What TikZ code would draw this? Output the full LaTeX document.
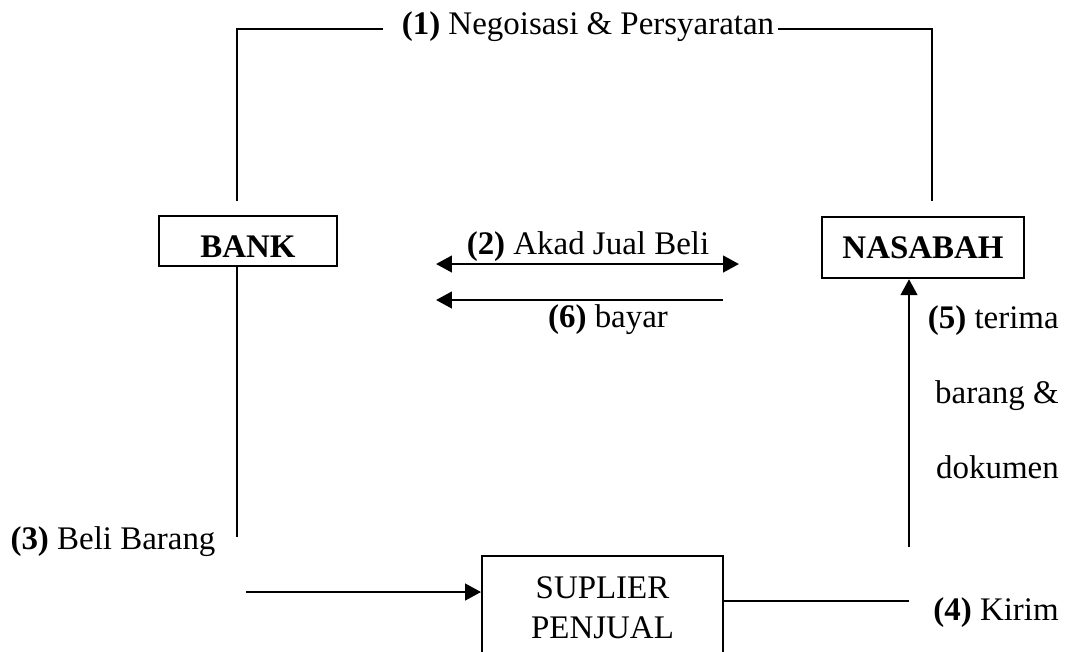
\documentclass[tikz,border=0pt]{standalone}
\usepackage{fontspec}
\setmainfont{Liberation Serif}
\usetikzlibrary{positioning,arrows.meta,calc}

\begin{document}
\begin{tikzpicture}[
  x=0.0128cm, y=-0.0128cm,
  party/.style={draw, line width=0.85pt, inner sep=0pt, align=center,
                font=\fontsize{12}{14.5}\selectfont},
  lbl/.style={inner sep=1pt, align=center, font=\fontsize{12}{14.5}\selectfont},
  ln/.style={line width=0.7pt},
  ar/.style={line width=1pt, -{Triangle[length=5.8pt,width=6pt]}},
  dar/.style={line width=1pt, {Triangle[length=5.8pt,width=6pt]}-{Triangle[length=5.8pt,width=6pt]}}
]
\useasboundingbox (0,0) rectangle (1070,651);

% parties
\node[party, minimum width=2.28cm, minimum height=0.64cm] (bank) at (248,241)
  {\raisebox{-0.07cm}[\height][\depth]{\textbf{BANK}}};
\node[party, minimum width=2.59cm, minimum height=0.78cm] (nasabah) at (923,247.5) {\textbf{NASABAH}};
\node[party, minimum width=3.08cm, minimum height=1.33cm] (suplier) at (602.5,608) {SUPLIER\\PENJUAL};

% labels
\node[lbl] (lbl1) at (588,27) {\textbf{(1)} Negoisasi \& Persyaratan};
\node[lbl] (lbl2) at (588,247) {\textbf{(2)} Akad Jual Beli};
\node[lbl] (lbl6) at (608,320) {\textbf{(6)} bayar};
\node[lbl] (lbl3) at (113,542) {\textbf{(3)} Beli Barang};
\node[lbl, anchor=east] (lbl4) at (1062,613) {\textbf{(4)} Kirim};
\node[lbl, anchor=east, align=right, font=\fontsize{12}{27.3}\selectfont] (lbl5) at (1062,392)
  {\textbf{(5)} terima\\barang \&\\dokumen};

% free ends
\coordinate (bankTop) at (237,201);
\coordinate (nasTop) at (932,201);
\coordinate (negoL) at (383,29);
\coordinate (negoR) at (778,29);
\coordinate (bankBot) at (237,537);
\coordinate (beliStart) at (246,592);
\coordinate (kirimEnd) at (909,601);
\coordinate (terimaStart) at (909,547);
\coordinate (akadL) at (436,264);
\coordinate (akadR) at (739,264);
\coordinate (bayarL) at (436,300);
\coordinate (bayarR) at (723,300);

% connectors
\draw[ln] (bankTop) |- (negoL);
\draw[ln] (negoR) -| (nasTop);
\draw[ln] (bankBot |- bank.south) -- (bankBot);
\draw[ar] (beliStart) -- (beliStart -| suplier.west);
\draw[ln] (kirimEnd -| suplier.east) -- (kirimEnd);
\draw[ar] (terimaStart) -- (terimaStart |- nasabah.south);
\draw[dar] (akadL) -- (akadR);
\draw[ar] (bayarR) -- (bayarL);
\end{tikzpicture}
\end{document}
